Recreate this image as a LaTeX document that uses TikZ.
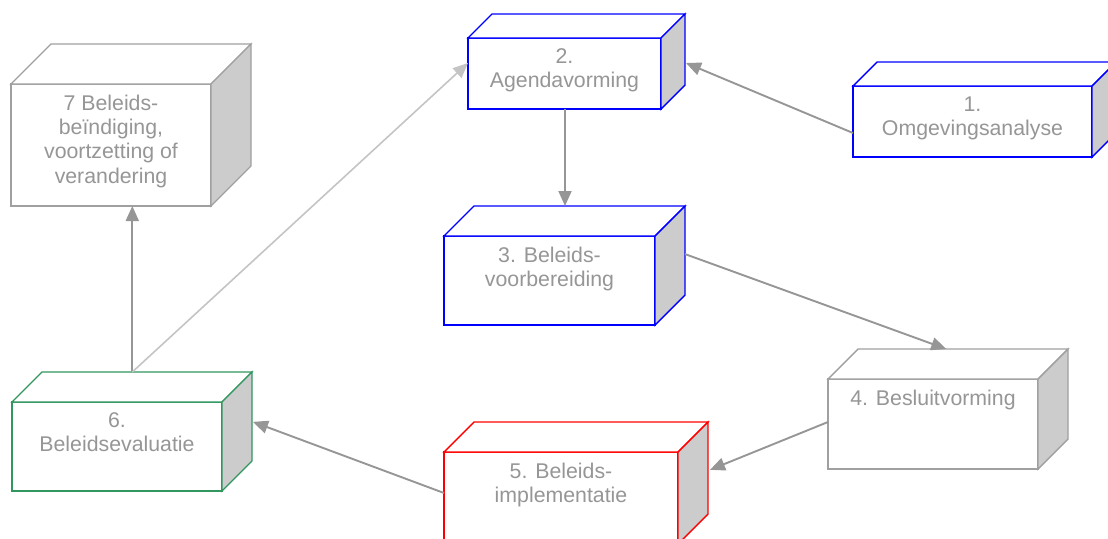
\documentclass[tikz,border=0pt]{standalone}
\usepackage{fontspec}
\setmainfont{Liberation Sans}
\usetikzlibrary{arrows.meta,calc}

\definecolor{boxblue}{RGB}{0,0,255}
\definecolor{boxred}{RGB}{255,0,0}
\definecolor{boxgreen}{RGB}{50,150,95}
\definecolor{boxgray}{RGB}{160,160,160}
\definecolor{sidegray}{RGB}{204,204,204}
\definecolor{textgray}{RGB}{150,150,150}
\definecolor{arrowgray}{RGB}{150,150,150}
\definecolor{lightarrow}{RGB}{196,196,196}

\tikzset{
  x=1pt, y=-1pt,
  front/.style={rectangle, fill=white, line width=1.4pt, inner sep=0pt, outer sep=0pt},
  edge/.style={draw=#1, line width=1.4pt, line join=miter},
  boxtext/.style={anchor=north, align=center, inner sep=0pt, text=textgray,
    font=\fontsize{21.3}{24.3}\selectfont},
  flow/.style={draw=arrowgray, line width=1.9pt, -{Triangle[length=15pt,width=13pt]}},
  lightflow/.style={draw=lightarrow, line width=1.6pt, -{Triangle[length=15pt,width=13pt]}},
}

% name, x, y, width, height, depth, colour, text
\newcommand\cubebox[8]{%
  \node[front, draw=#7, minimum width=#4pt, minimum height=#5pt, anchor=north west] (#1) at (#2,#3) {};
  \coordinate (#1-bnw) at ([shift={(#6,-#6)}]#1.north west);
  \coordinate (#1-bne) at ([shift={(#6,-#6)}]#1.north east);
  \coordinate (#1-bse) at ([shift={(#6,-#6)}]#1.south east);
  \draw[edge=#7, fill=white] (#1.north west) -- (#1-bnw) -- (#1-bne) -- (#1.north east) -- cycle;
  \draw[edge=#7, fill=sidegray] (#1.north east) -- (#1-bne) -- (#1-bse) -- (#1.south east) -- cycle;
  \node[boxtext] (#1t) at ([yshift=-10.5pt]#1.north) {#8};
}

\begin{document}
\begin{tikzpicture}
\useasboundingbox (0,0) rectangle (1108,538);
\clip (0,0) rectangle (1108,538);

\cubebox{b1}{853}{86}{239}{71}{24}{boxblue}{1.\\Omgevingsanalyse}
\cubebox{b2}{468}{38}{193}{71}{24}{boxblue}{2.\\Agendavorming}
\cubebox{b3}{444}{236}{211}{89}{30}{boxblue}{3. Beleids-\\voorbereiding}
\cubebox{b4}{828}{379}{210}{90}{30}{boxgray}{4. Besluitvorming}
\cubebox{b5}{444}{452}{234}{92}{30}{boxred}{5. Beleids-\\implementatie}
\cubebox{b6}{12}{402}{210}{89}{30}{boxgreen}{6.\\Beleidsevaluatie}
\cubebox{b7}{11}{84}{200}{122}{40}{boxgray}{7 Beleids-\\beïndiging,\\voortzetting of\\verandering}

% connectors
\coordinate (b6top) at ($(b6-bnw)!0.43!(b6-bne)$);
\coordinate (b2foot) at ([xshift=0.5pt]b2.south);
\draw[flow] ([yshift=-11.5pt]b1.west) -- ([shift={(25,-10.5)}]b2.east);
\draw[flow] (b2foot) -- (b2foot |- b3-bnw);
\draw[flow] ($(b3-bne)!0.54!(b3-bse)$) -- ($(b4-bnw)!0.42!(b4-bne)$);
\draw[flow] ([yshift=2pt]b4.west) -- ([xshift=2pt]$(b5-bne)!0.52!(b5-bse)$);
\draw[flow] ([yshift=5pt]b5.west) -- ([xshift=1pt]$(b6-bne)!0.56!(b6-bse)$);
\draw[flow] (b6top) -- (b6top |- b7.south);
\draw[lightflow] (b6top) -- ([yshift=10.5pt]b2.west);
\end{tikzpicture}
\end{document}
